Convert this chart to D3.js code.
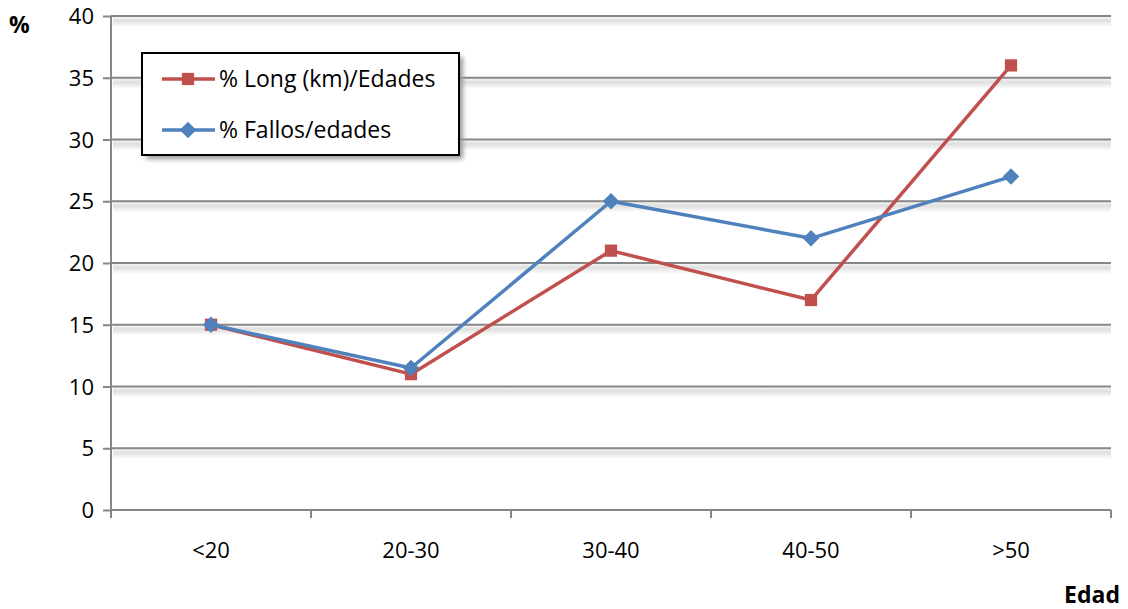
<!DOCTYPE html>
<html>
<head>
<meta charset="utf-8">
<script src="https://cdn.jsdelivr.net/npm/d3@7"></script>
<style>
  body { margin: 0; background: #fff; }
  svg text { font-family: "Open Sans", sans-serif; fill: #000; }
</style>
</head>
<body>
<div id="Chart"></div>
<script>
// data
var categories = ["<20", "20-30", "30-40", "40-50", ">50"];
var longValues = [15, 11, 21, 17, 36];
var fallosValues = [15, 11.5, 25, 22, 27];
var yTicks = [0, 5, 10, 15, 20, 25, 30, 35, 40];
var seriesNames = ["% Long (km)/Edades", "% Fallos/edades"];

var margin = {top: 16, right: 17, bottom: 99, left: 111},
    width = 1128 - margin.left - margin.right,
    height = 609 - margin.top - margin.bottom;

var svg = d3.select("#Chart")
            .append("svg")
            .attr("class", "chart")
            .attr("width", 1128)
            .attr("height", 609);

var defs = svg.append("defs");
var grad = defs.append("linearGradient").attr("id", "gridShade")
    .attr("x1", 0).attr("x2", 0).attr("y1", 0).attr("y2", 1);
grad.append("stop").attr("offset", "0%").attr("stop-color", "#f4f4f4");
grad.append("stop").attr("offset", "35%").attr("stop-color", "#dedede");
grad.append("stop").attr("offset", "100%").attr("stop-color", "#ffffff");
var ls = defs.append("filter").attr("id", "legendShadow")
    .attr("x", "-10%").attr("y", "-10%").attr("width", "130%").attr("height", "130%");
ls.append("feGaussianBlur").attr("stdDeviation", 2.5);

var x = d3.scaleBand().domain(categories).range([0, width]);
var y = d3.scaleLinear().domain([0, 40]).range([height, 0]);

var g = svg.append("g").attr("transform", "translate(" + margin.left + "," + margin.top + ")");

// soft shadow under each gridline
g.selectAll("rect.gshadow")
    .data(yTicks.filter(d => d > 0))
    .enter().append("rect")
    .attr("class", "gshadow")
    .attr("x", 2).attr("width", width - 2)
    .attr("y", d => y(d) + 1).attr("height", 10)
    .attr("fill", "url(#gridShade)");

// gridlines
g.selectAll("line.grid")
    .data(yTicks)
    .enter().append("line")
    .attr("class", "grid")
    .attr("x1", 0).attr("x2", width)
    .attr("y1", d => y(d)).attr("y2", d => y(d))
    .attr("stroke", "#868686")
    .attr("stroke-width", 2);

// y axis
var yaxis = g.append("g")
    .call(d3.axisLeft(y).tickValues(yTicks).tickSize(8).tickPadding(9));
yaxis.select(".domain").attr("stroke", "#868686").attr("stroke-width", 2)
    .attr("d", "M0," + (height + 8) + "V0");
yaxis.selectAll(".tick line").attr("stroke", "#868686").attr("stroke-width", 2);
yaxis.selectAll(".tick text").style("font-size", "22px").attr("dy", "0.35em");

// x axis
var boundaries = categories.map(c => x(c)).concat([width]);
var xaxis = g.append("g").attr("transform", "translate(0," + height + ")");
xaxis.append("line").attr("x1", 0).attr("x2", width).attr("stroke", "#868686").attr("stroke-width", 2);
xaxis.selectAll("line.xtick")
    .data(boundaries)
    .enter().append("line")
    .attr("x1", d => d).attr("x2", d => d)
    .attr("y1", 0).attr("y2", 8)
    .attr("stroke", "#868686").attr("stroke-width", 2);
xaxis.selectAll("text")
    .data(categories)
    .enter().append("text")
    .attr("x", d => x(d) + x.bandwidth() / 2)
    .attr("y", 48)
    .attr("text-anchor", "middle")
    .style("font-size", "22px")
    .text(d => d);

// axis titles
svg.append("text").attr("x", 9).attr("y", 33)
    .style("font-size", "23px").style("font-weight", "bold").text("%");
svg.append("text").attr("x", 1120).attr("y", 603).attr("text-anchor", "end")
    .style("font-size", "23px").style("font-weight", "bold").text("Edad");

// lines
var cx = d => x(d) + x.bandwidth() / 2;
var line = d3.line().x((d, i) => cx(categories[i])).y(d => y(d));
var colors = ["#C0504D", "#4F81BD"];
var allSeries = [longValues, fallosValues];
var markerRot = [0, 45];
var markerSize = [150, 136];

allSeries.forEach(function(vals, s) {
    g.append("path")
        .datum(vals)
        .attr("fill", "none")
        .attr("stroke", colors[s])
        .attr("stroke-width", 3.5)
        .attr("stroke-linejoin", "round")
        .attr("d", line);
    g.selectAll("path.m" + s)
        .data(vals)
        .enter().append("path")
        .attr("class", "m" + s)
        .attr("transform", (d, i) => "translate(" + cx(categories[i]) + "," + y(d) + ") rotate(" + markerRot[s] + ")")
        .attr("d", d3.symbol().type(d3.symbolSquare).size(markerSize[s]))
        .attr("fill", colors[s]);
});

// legend
var lg = svg.append("g").attr("transform", "translate(142,53)");
lg.append("rect").attr("x", 4).attr("y", 4).attr("width", 317).attr("height", 102)
    .attr("fill", "#999").attr("filter", "url(#legendShadow)");
lg.append("rect").attr("width", 317).attr("height", 102)
    .attr("fill", "#fff").attr("stroke", "#000").attr("stroke-width", 2);
seriesNames.forEach(function(name, s) {
    var ly = 26 + s * 51;
    lg.append("line").attr("x1", 20).attr("x2", 73).attr("y1", ly).attr("y2", ly)
        .attr("stroke", colors[s]).attr("stroke-width", 3.5);
    lg.append("path")
        .attr("transform", "translate(46," + ly + ") rotate(" + markerRot[s] + ")")
        .attr("d", d3.symbol().type(d3.symbolSquare).size(markerSize[s]))
        .attr("fill", colors[s]);
    lg.append("text").attr("x", 77).attr("y", ly).attr("dy", "0.35em")
        .style("font-size", "23px").text(name);
});
</script>
</body>
</html>
